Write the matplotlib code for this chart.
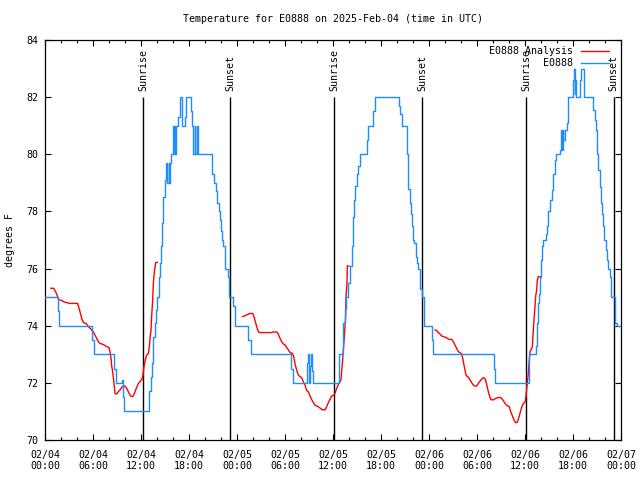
import matplotlib
matplotlib.use('Agg')
import matplotlib.pyplot as plt
from matplotlib.ticker import MultipleLocator

plt.rcParams['font.family'] = ['DejaVu Sans Mono', 'DejaVu Sans']

# ---------------- data (hours since 02/04 00:00 UTC, degrees F) ----------------
title = "Temperature for E0888 on 2025-Feb-04 (time in UTC)"
ylabel = "degrees F"
xtick_hours = [0, 6, 12, 18, 24, 30, 36, 42, 48, 54, 60, 66, 72]
xtick_labels = ["02/04\n00:00", "02/04\n06:00", "02/04\n12:00", "02/04\n18:00",
                "02/05\n00:00", "02/05\n06:00", "02/05\n12:00", "02/05\n18:00",
                "02/06\n00:00", "02/06\n06:00", "02/06\n12:00", "02/06\n18:00",
                "02/07\n00:00"]
ytick_values = [70, 72, 74, 76, 78, 80, 82, 84]

event_hours = [12.27, 23.17, 36.17, 47.17, 60.17, 71.1]
event_labels = ["Sunrise", "Sunset", "Sunrise", "Sunset", "Sunrise", "Sunset"]

# E0888 observations (change points, step series)
obs_day1_h = [0.0, 1.6, 1.75, 5.92, 6.08, 8.67, 8.83, 9.67, 9.75, 9.9,
              13.04, 13.2, 13.4, 13.55, 13.75, 13.9, 14.05, 14.2, 14.35, 14.5,
              14.65, 14.8, 14.95, 15.15, 15.3, 15.45, 15.55, 15.65, 15.8, 16.0,
              16.1, 16.2, 16.3, 16.4, 16.6, 16.875, 17.15, 17.45, 17.6, 18.2,
              18.35, 18.55, 18.7, 18.8, 19.0, 19.15, 20.9, 21.1, 21.35, 21.5,
              21.7, 21.85, 22.0, 22.1, 22.3, 22.5, 22.9, 23.05, 23.5, 23.75]
obs_day1_t = [75.0, 74.5, 74.0, 73.5, 73.0, 72.5, 72.0, 72.1, 71.5, 71.0,
              71.7, 72.2, 72.7, 73.6, 74.1, 74.55, 75.0, 75.7, 76.2, 76.8,
              77.6, 78.5, 79.1, 79.7, 79.0, 79.7, 79.0, 79.7, 80.0, 81.0,
              80.0, 81.0, 80.0, 81.0, 81.3, 82.0, 81.0, 81.3, 82.0, 81.5,
              81.0, 80.0, 81.0, 80.0, 81.0, 80.0, 79.3, 79.0, 78.7, 78.3,
              78.0, 77.7, 77.3, 77.0, 76.8, 76.0, 75.7, 75.0, 74.7, 74.0]

obs_day2_h = [25.4, 25.7, 30.8, 31.0, 32.8, 32.9, 33.0, 33.1, 33.25, 33.35,
              33.5, 36.75, 37.2, 37.3, 37.5, 37.58, 37.9, 38.1, 38.33, 38.46,
              38.54, 38.67, 38.75, 38.96, 39.17, 39.375, 40.3, 40.42, 41.04, 41.25,
              44.25, 44.4, 44.67, 45.2, 45.33, 45.42, 45.625, 45.75, 45.92, 46.04,
              46.17, 46.33, 46.46, 46.58, 46.875, 47.08, 47.35]
obs_day2_t = [73.5, 73.0, 72.5, 72.0, 72.7, 73.0, 72.0, 72.6, 73.0, 72.4,
              72.0, 73.0, 73.4, 74.1, 74.6, 75.0, 75.5, 76.1, 76.8, 77.35,
              77.8, 78.4, 78.9, 79.3, 79.6, 80.0, 80.5, 81.0, 81.5, 82.0,
              81.7, 81.4, 81.0, 80.0, 79.3, 78.8, 78.3, 77.9, 77.5, 77.0,
              76.9, 76.4, 76.2, 76.0, 75.3, 75.0, 74.0]

obs_day3_h = [48.4, 48.54, 56.1, 56.25, 60.5, 61.33, 61.46, 61.58, 61.75, 61.875,
              62.0, 62.17, 62.29, 62.58, 62.75, 62.92, 63.125, 63.33, 63.54, 63.75,
              63.83, 64.375, 64.5, 64.58, 64.7, 64.8, 65.0, 65.2, 65.42, 66.0,
              66.1, 66.2, 66.3, 66.4, 66.9, 67.0, 67.35, 68.54, 68.75, 68.83,
              68.96, 69.17, 69.375, 69.5, 69.67, 69.79, 69.92, 70.08, 70.21, 70.33,
              70.625, 70.75, 71.25, 71.5, 72.0]
obs_day3_t = [73.5, 73.0, 72.5, 72.0, 73.0, 73.3, 74.1, 74.8, 75.1, 75.7,
              76.3, 76.8, 77.0, 77.2, 77.5, 78.0, 78.4, 78.75, 79.3, 79.8,
              80.0, 80.15, 80.85, 80.15, 80.85, 80.5, 80.85, 81.1, 82.0, 82.6,
              83.0, 82.1, 82.6, 82.0, 82.6, 83.0, 82.0, 81.55, 81.2, 80.85,
              80.0, 79.45, 78.87, 78.3, 77.9, 77.5, 77.0, 76.65, 76.3, 76.0,
              75.7, 75.0, 74.1, 74.0, 74.0]

# E0888 Analysis (three separate segments)
ana1_h = [0.75, 1.08, 1.25, 1.46, 1.67, 1.875, 2.08, 2.5, 3.125, 4.08,
          4.17, 4.375, 4.58, 4.79, 5.21, 5.42, 5.83, 6.04, 6.25, 6.46,
          6.67, 6.875, 7.29, 7.71, 8.0, 8.125, 8.25, 8.33, 8.46, 8.625,
          8.75, 8.96, 9.17, 9.375, 9.67, 10.0, 10.21, 10.42, 10.625, 10.83,
          11.04, 11.25, 11.46, 11.67, 11.875, 12.08, 12.21, 12.375, 12.54, 12.71,
          12.92, 13.04, 13.125, 13.25, 13.33, 13.46, 13.54, 13.67, 13.83, 14.04]
ana1_t = [75.31, 75.31, 75.23, 75.11, 74.92, 74.9, 74.88, 74.82, 74.78, 74.78,
          74.69, 74.49, 74.26, 74.11, 74.06, 73.97, 73.85, 73.79, 73.67, 73.56,
          73.44, 73.38, 73.34, 73.27, 73.24, 73.09, 72.86, 72.6, 72.39, 71.98,
          71.63, 71.61, 71.69, 71.75, 71.87, 71.89, 71.81, 71.69, 71.57, 71.52,
          71.54, 71.69, 71.84, 71.98, 72.04, 72.12, 72.2, 72.57, 72.8, 72.97,
          73.03, 73.27, 73.56, 73.85, 74.32, 74.9, 75.48, 75.89, 76.21, 76.22]

ana2_h = [24.71, 25.0, 25.42, 25.71, 25.96, 26.125, 26.29, 26.46, 26.625, 26.79,
          28.33, 28.54, 28.96, 29.17, 29.375, 29.58, 29.79, 30.0, 30.21, 30.42,
          30.625, 30.92, 31.04, 31.17, 31.29, 31.46, 31.67, 31.875, 32.08, 32.29,
          32.5, 32.71, 32.92, 33.125, 33.33, 33.54, 33.75, 33.96, 34.29, 34.58,
          35.0, 35.21, 35.42, 35.625, 35.83, 36.04, 36.25, 36.46, 36.67, 36.875,
          37.0, 37.08, 37.17, 37.29, 37.42, 37.5, 37.58, 37.625, 37.75, 37.79, 38.0]
ana2_t = [74.32, 74.35, 74.41, 74.43, 74.43, 74.32, 74.14, 73.97, 73.83, 73.76,
          73.76, 73.78, 73.78, 73.7, 73.56, 73.44, 73.36, 73.33, 73.24, 73.15,
          73.06, 73.03, 72.97, 72.8, 72.62, 72.45, 72.27, 72.22, 72.18, 72.04,
          71.92, 71.73, 71.69, 71.54, 71.42, 71.31, 71.22, 71.19, 71.14, 71.07,
          71.05, 71.17, 71.31, 71.42, 71.54, 71.56, 71.63, 71.81, 71.95, 72.04,
          72.1, 72.39, 72.68, 73.15, 73.62, 73.97, 74.32, 75.02, 75.48, 76.09, 76.09]

ana3_h = [48.75, 48.96, 49.17, 49.375, 49.58, 49.79, 50.125, 50.42, 50.83, 51.04,
          51.25, 51.46, 51.67, 51.875, 52.08, 52.21, 52.375, 52.5, 52.625, 52.79,
          52.96, 53.125, 53.33, 53.54, 53.75, 53.96, 54.17, 54.375, 54.58, 54.79,
          55.0, 55.125, 55.29, 55.42, 55.54, 55.71, 55.96, 56.125, 56.375, 56.67,
          56.875, 57.08, 57.29, 57.5, 57.79, 58.04, 58.21, 58.46, 58.625, 58.83,
          59.04, 59.21, 59.375, 59.58, 59.79, 60.0, 60.125, 60.21, 60.33, 60.42,
          60.5, 60.625, 60.75, 60.92, 61.04, 61.125, 61.25, 61.33, 61.46, 61.54,
          61.67, 61.875]
ana3_t = [73.85, 73.83, 73.76, 73.71, 73.64, 73.62, 73.59, 73.53, 73.52, 73.44,
          73.32, 73.21, 73.09, 73.06, 73.01, 72.86, 72.62, 72.45, 72.27, 72.22,
          72.19, 72.1, 72.01, 71.92, 71.89, 71.89, 71.98, 72.06, 72.13, 72.18,
          72.15, 72.04, 71.84, 71.69, 71.57, 71.42, 71.4, 71.42, 71.46, 71.49,
          71.49, 71.46, 71.38, 71.28, 71.2, 71.17, 70.99, 70.82, 70.7, 70.61,
          70.62, 70.76, 70.93, 71.14, 71.28, 71.32, 71.52, 71.8, 72.1, 72.33,
          72.68, 73.09, 73.15, 73.27, 73.85, 74.2, 74.67, 75.02, 75.25, 75.6,
          75.72, 75.72]

# ---------------- drawing ----------------
FS = 7.2
RED = '#ff0000'
BLUE = '#1e8cff'

fig = plt.figure(figsize=(6.4, 4.8), dpi=100)
ax = fig.add_axes([45 / 640, 40 / 480, 576 / 640, 400 / 480])

for h, lab in zip(event_hours, event_labels):
    ax.vlines(h, 70, 82, color='black', lw=1.0, zorder=1)
    ax.text(h, 82.2, lab, rotation=90, ha='center', va='bottom', fontsize=FS)

red_line, = ax.plot(ana1_h, ana1_t, color=RED, lw=1.0, zorder=2, label='E0888 Analysis')
ax.plot(ana2_h, ana2_t, color=RED, lw=1.0, zorder=2)
ax.plot(ana3_h, ana3_t, color=RED, lw=1.0, zorder=2)

obs_h = obs_day1_h + obs_day2_h + obs_day3_h
obs_t = obs_day1_t + obs_day2_t + obs_day3_t
blue_line, = ax.plot(obs_h, obs_t, drawstyle='steps-post', color=BLUE, lw=1.0,
                     zorder=3, label='E0888')

ax.set_xlim(0, 72)
ax.set_ylim(70, 84)
ax.set_xticks(xtick_hours)
ax.set_xticklabels(xtick_labels, fontsize=FS)
ax.set_yticks(ytick_values)
ax.set_yticklabels([str(v) for v in ytick_values], fontsize=FS)
ax.xaxis.set_minor_locator(MultipleLocator(2))
ax.tick_params(which='both', direction='in', top=True, right=True, width=0.8)
ax.tick_params(which='major', length=4.0)
ax.tick_params(axis='x', which='major', pad=7)
ax.tick_params(axis='y', which='major', pad=5)
ax.tick_params(which='minor', length=2.0)
for s in ax.spines.values():
    s.set_linewidth(0.9)

ax.set_ylabel(ylabel, fontsize=FS)
ax.yaxis.set_label_coords(-0.052, 0.5)
ax.set_title(title, fontsize=FS, pad=13)

leg = ax.legend(handles=[red_line, blue_line], loc='upper right',
                bbox_to_anchor=(0.979, 0.984), markerfirst=False, frameon=False,
                fontsize=FS, borderpad=0, borderaxespad=0, handlelength=2.8,
                handletextpad=0.8, labelspacing=0.2)

fig.savefig('out.png', dpi=100)
